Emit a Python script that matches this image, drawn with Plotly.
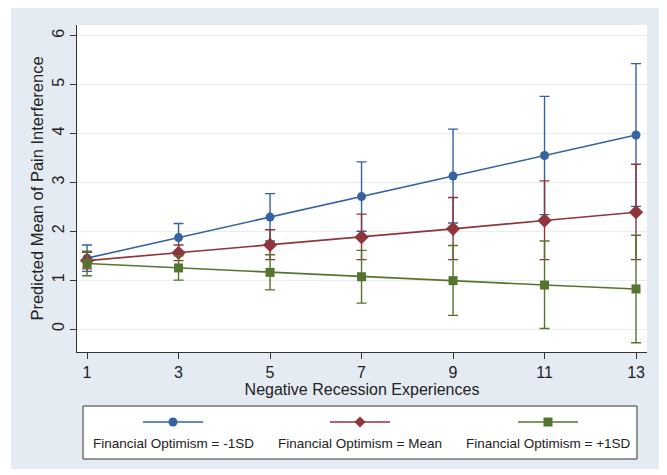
import plotly.graph_objects as go

# ---- data ----
recession = [1, 3, 5, 7, 9, 11, 13]

low_mean = [1.45, 1.87, 2.29, 2.71, 3.13, 3.55, 3.97]
low_lo   = [1.18, 1.58, 1.80, 2.00, 2.17, 2.34, 2.51]
low_hi   = [1.72, 2.16, 2.77, 3.42, 4.09, 4.76, 5.43]

mid_mean = [1.40, 1.56, 1.72, 1.88, 2.05, 2.22, 2.39]
mid_lo   = [1.23, 1.40, 1.42, 1.42, 1.42, 1.42, 1.42]
mid_hi   = [1.57, 1.72, 2.03, 2.35, 2.69, 3.03, 3.37]

high_mean = [1.34, 1.25, 1.16, 1.07, 0.99, 0.90, 0.82]
high_lo   = [1.09, 1.00, 0.80, 0.53, 0.28, 0.01, -0.28]
high_hi   = [1.59, 1.50, 1.52, 1.61, 1.71, 1.80, 1.92]

series_names = ["Financial Optimism = -1SD", "Financial Optimism = Mean", "Financial Optimism = +1SD"]
x_ticks = [1, 3, 5, 7, 9, 11, 13]
y_ticks = [0, 1, 2, 3, 4, 5, 6]

# ---- styling ----
OFF = 8  # page body margin
W, H = 653, 461
ML, MR, MT, MB = 69, 14, 17, 117
PW, PH = W - ML - MR, H - MT - MB
BLUE, RED, GREEN = "#3562a0", "#90353b", "#55752f"
BG = "#e5ebf3"
FONT = "Liberation Sans, Arial, sans-serif"


def px(xp):
    return (xp - OFF - ML) / PW


def py(yp):
    return (H - MB - (yp - OFF)) / PH


fig = go.Figure()
specs = [
    (low_mean, low_lo, low_hi, BLUE, "circle", 9),
    (mid_mean, mid_lo, mid_hi, RED, "diamond", 11),
    (high_mean, high_lo, high_hi, GREEN, "square", 9),
]
for name, (m, lo, hi, col, sym, sz) in zip(series_names, specs):
    fig.add_trace(go.Scatter(
        x=recession, y=m, name=name, mode="lines+markers",
        line=dict(color=col, width=1.6),
        marker=dict(color=col, symbol=sym, size=sz),
        error_y=dict(type="data", symmetric=False,
                     array=[h - v for h, v in zip(hi, m)],
                     arrayminus=[v - l for l, v in zip(lo, m)],
                     color=col, thickness=1.4, width=5),
        showlegend=False,
    ))

shapes = []
# white strip left of the bluish graph region
shapes.append(dict(type="rect", xref="paper", yref="paper",
                   x0=px(8), x1=px(11), y0=py(470), y1=py(8),
                   fillcolor="white", line=dict(width=0)))
# legend box
shapes.append(dict(type="rect", xref="paper", yref="paper",
                   x0=px(83), x1=px(637), y0=py(459), y1=py(406),
                   fillcolor="white", line=dict(color="#333333", width=1)))

annotations = []
centers = [173, 360, 548]
ly = 422
for name, (m, lo, hi, col, sym, sz), cx in zip(series_names, specs, centers):
    shapes.append(dict(type="line", xref="paper", yref="paper",
                       x0=px(cx - 30), x1=px(cx + 30), y0=py(ly), y1=py(ly),
                       line=dict(color=col, width=1.6)))
    if sym == "circle":
        r = 4.5
        shapes.append(dict(type="circle", xref="paper", yref="paper",
                           x0=px(cx - r), x1=px(cx + r), y0=py(ly + r), y1=py(ly - r),
                           fillcolor=col, line=dict(width=0)))
    elif sym == "diamond":
        r = 5.5
        path = "M {} {} L {} {} L {} {} L {} {} Z".format(
            px(cx), py(ly - r), px(cx + r), py(ly), px(cx), py(ly + r), px(cx - r), py(ly))
        shapes.append(dict(type="path", xref="paper", yref="paper", path=path,
                           fillcolor=col, line=dict(width=0)))
    else:
        r = 4.5
        shapes.append(dict(type="rect", xref="paper", yref="paper",
                           x0=px(cx - r), x1=px(cx + r), y0=py(ly + r), y1=py(ly - r),
                           fillcolor=col, line=dict(width=0)))
    annotations.append(dict(text=name, xref="paper", yref="paper",
                            x=px(cx), y=py(443), xanchor="center", yanchor="middle",
                            showarrow=False, font=dict(size=13.5, color="#222222", family=FONT)))

fig.update_layout(
    width=W, height=H,
    margin=dict(l=ML, r=MR, t=MT, b=MB),
    paper_bgcolor=BG, plot_bgcolor="white",
    font=dict(family=FONT, color="#222222"),
    shapes=shapes, annotations=annotations,
    showlegend=False,
)
fig.update_xaxes(
    range=[0.78, 13.24], tickvals=x_ticks, ticktext=[str(t) for t in x_ticks],
    ticks="outside", ticklen=6, tickcolor="#333333", tickfont=dict(size=16),
    showline=True, linecolor="#333333", linewidth=1, showgrid=False, zeroline=False,
    title=dict(text="Negative Recession Experiences", font=dict(size=16), standoff=0),
)
fig.update_yaxes(
    range=[-0.47, 6.22], tickvals=y_ticks, ticktext=[str(t) for t in y_ticks],
    ticks="outside", ticklen=6, tickcolor="#333333", tickfont=dict(size=16), tickangle=-90,
    showline=True, linecolor="#333333", linewidth=1,
    showgrid=True, gridcolor="#e6eef1", gridwidth=1, zeroline=False,
    title=dict(text="Predicted Mean of Pain Interference", font=dict(size=16.5), standoff=1),
)

fig.write_html("out.html")
